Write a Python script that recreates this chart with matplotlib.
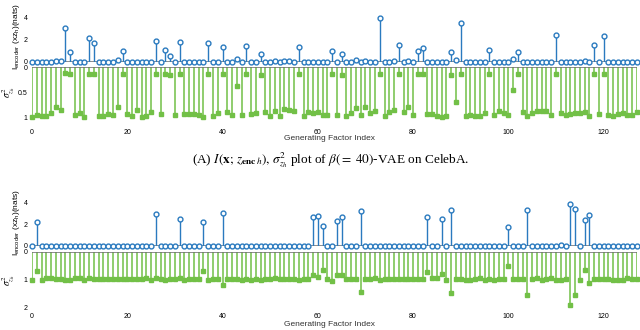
import numpy as np
import matplotlib
matplotlib.use("Agg")
import matplotlib.pyplot as plt

plt.rcParams['font.family'] = ['Liberation Sans', 'DejaVu Sans']
plt.rcParams['mathtext.fontset'] = 'stix'

factor_idx = np.arange(128)
x_ticks = [0, 20, 40, 60, 80, 100, 120]

# (A) beta(=40)-VAE on CelebA: mutual information per latent (nats)
enc_a = [0, 0, 0, 0, 0, 0.1, 0.1, 3.04, 0.85, 0, 0, 0, 2.15, 1.65, 0, 0,
         0, 0, 0.15, 1.0, 0, 0, 0, 0, 0, 0, 1.9, 0, 1.1, 0.55, 0, 1.75,
         0, 0, 0, 0, 0, 1.65, 0, 0, 1.3, 0, 0, 0.27, 0, 1.45, 0, 0,
         0.75, 0, 0, 0.1, 0, 0.1, 0.1, 0, 1.35, 0, 0, 0, 0, 0, 0, 0.95,
         0, 0.72, 0, 0, 0.15, 0, 0.1, 0, 0, 3.9, 0, 0, 0.1, 1.5, 0, 0.1,
         0, 0.95, 1.22, 0, 0, 0, 0, 0, 0.85, 0.15, 3.45, 0, 0, 0, 0, 0,
         1.1, 0, 0, 0, 0, 0.25, 0.92, 0, 0, 0, 0, 0, 0, 0, 2.4, 0,
         0, 0, 0, 0, 0.1, 0, 1.5, 0, 2.35, 0, 0, 0, 0, 0, 0, 0]

# (A) posterior variance per latent
var_a = [0.99, 0.95, 0.97, 0.97, 0.9, 0.79, 0.85, 0.12, 0.14, 0.95, 0.9, 0.98, 0.14, 0.14, 0.96, 0.97,
         0.93, 0.95, 0.78, 0.14, 0.92, 0.97, 0.85, 0.98, 0.96, 0.89, 0.13, 0.92, 0.13, 0.16, 0.95, 0.13,
         0.93, 0.93, 0.93, 0.95, 0.98, 0.13, 0.97, 0.91, 0.13, 0.88, 0.95, 0.37, 0.95, 0.13, 0.93, 0.9,
         0.15, 0.89, 0.97, 0.87, 0.96, 0.83, 0.85, 0.87, 0.14, 0.96, 0.88, 0.91, 0.88, 0.95, 0.94, 0.14,
         0.94, 0.15, 0.97, 0.91, 0.81, 0.95, 0.79, 0.91, 0.87, 0.13, 0.97, 0.89, 0.85, 0.13, 0.89, 0.79,
         0.95, 0.13, 0.13, 0.93, 0.93, 0.96, 0.99, 0.97, 0.16, 0.68, 0.13, 0.97, 0.94, 0.96, 0.97, 0.91,
         0.13, 0.95, 0.87, 0.9, 0.94, 0.45, 0.13, 0.88, 0.96, 0.91, 0.87, 0.86, 0.86, 0.94, 0.14, 0.91,
         0.95, 0.93, 0.9, 0.91, 0.89, 0.97, 0.13, 0.93, 0.13, 0.95, 0.96, 0.93, 0.91, 0.95, 0.95, 0.89]

# (B) second model
enc_b = [0, 2.17, 0, 0, 0, 0, 0, 0, 0, 0, 0, 0, 0, 0, 0, 0,
         0, 0, 0, 0, 0, 0, 0, 0, 0, 0, 2.93, 0, 0, 0, 0, 2.44,
         0, 0, 0, 0, 2.2, 0, 0, 0, 3.05, 0, 0, 0, 0, 0, 0, 0,
         0, 0, 0, 0, 0, 0, 0, 0, 0, 0, 0, 2.66, 2.78, 1.8, 0, 0,
         2.32, 2.69, 0, 0, 0, 3.24, 0, 0, 0, 0, 0, 0, 0, 0, 0, 0,
         0, 0, 0, 2.66, 0, 0, 2.5, 0, 3.27, 0, 0, 0, 0, 0, 0, 0,
         0, 0, 0, 0, 1.77, 0, 0, 0, 3.3, 0, 0, 0, 0, 0, 0, 0.05,
         0, 3.82, 3.39, 0, 2.35, 2.84, 0, 0, 0, 0, 0, 0, 0, 0, 0, 0]

var_b = [0.99, 0.69, 1.0, 0.95, 0.95, 0.96, 0.98, 0.99, 0.99, 0.95, 0.95, 0.99, 0.95, 0.96, 0.98, 0.98,
         0.96, 0.96, 0.96, 0.96, 0.98, 0.98, 0.98, 0.96, 0.94, 1.0, 0.92, 0.98, 0.99, 0.98, 0.98, 0.93,
         0.99, 0.96, 0.98, 0.96, 0.67, 0.99, 0.96, 0.98, 1.2, 0.98, 0.96, 0.96, 0.99, 0.98, 0.99, 0.96,
         0.99, 0.96, 0.96, 0.95, 0.98, 0.96, 0.98, 0.96, 0.99, 0.96, 0.96, 0.81, 0.89, 0.66, 0.96, 1.04,
         0.81, 0.81, 0.96, 0.96, 0.98, 1.45, 0.96, 0.96, 0.93, 0.99, 0.96, 0.97, 0.98, 0.96, 0.97, 0.98,
         0.96, 0.97, 0.98, 0.73, 0.95, 0.95, 0.8, 0.99, 1.46, 0.96, 0.96, 0.99, 0.99, 0.96, 0.95, 1.01,
         0.98, 0.99, 0.98, 0.98, 0.51, 0.98, 0.98, 0.98, 1.54, 0.98, 0.95, 0.99, 0.96, 0.95, 1.0, 1.01,
         0.96, 1.89, 1.53, 0.99, 0.66, 1.11, 0.98, 0.96, 0.96, 0.98, 0.99, 0.99, 0.99, 0.94, 0.96, 0.96]

BLUE = '#2a7abf'
GREEN = '#72c047'
BASE = '#6e6e6e'
W, H = 640, 330
TICK_FS = 5


def px_axes(fig, top, bottom):
    # axes placed by pixel rows (measured from the top of the image)
    ax = fig.add_axes([32 / W, 1 - bottom / H, 605 / W, (bottom - top) / H])
    ax.set_xlim(0, 127)
    for s in ax.spines.values():
        s.set_visible(False)
    ax.tick_params(length=0, labelsize=TICK_FS, pad=3)
    return ax


def draw_enc(ax, vals, ymax):
    ax.vlines(factor_idx, 0, vals, color=BLUE, lw=1.0, zorder=2)
    ax.plot(factor_idx, vals, 'o', ms=3.5, mfc='white', mec=BLUE, mew=1.0,
            clip_on=False, zorder=4)
    ax.axhline(0, color=BASE, lw=1.1, zorder=1)
    ax.set_ylim(0, ymax)
    ax.set_yticks([0, 2, 4])
    ax.set_xticks([])


def draw_var(ax, vals, ymax, ticks, labels):
    ax.vlines(factor_idx, 0, vals, color=GREEN, lw=1.1, zorder=2)
    ax.plot(factor_idx, vals, 's', ms=2.6, mfc=GREEN, mec=GREEN,
            clip_on=False, zorder=4)
    ax.axhline(0, color=BASE, lw=1.1, zorder=3)
    ax.set_ylim(ymax, 0)
    ax.set_yticks(ticks)
    ax.set_yticklabels(labels)
    ax.set_xticks(x_ticks)


fig = plt.figure(figsize=(6.4, 3.3), dpi=100)

# panel A
ax_a1 = px_axes(fig, 11.4, 62)
draw_enc(ax_a1, enc_a, 4.5)
ax_a2 = px_axes(fig, 67.3, 117.7)
draw_var(ax_a2, var_a, 1.0, [0, 0.5, 1], ['0', '0.5', '1'])
ax_a2.tick_params(axis='x', pad=8)

# panel B
ax_b1 = px_axes(fig, 197, 246)
draw_enc(ax_b1, enc_b, 4.5)
ax_b2 = px_axes(fig, 252, 307.7)
draw_var(ax_b2, var_b, 2.0, [0, 1, 2], ['0', '1', '2'])
ax_b2.tick_params(axis='x', pad=3.5)

ylab_top = r'I$_{\mathregular{encoder}}$ (xz$_{\mathregular{h}}$)(nats)'
ylab_bot = r'$\sigma^2_{z_h}$'
for y_top, y_bot in [(36, 92), (222, 280)]:
    fig.text(16 / W, 1 - y_top / H, ylab_top, rotation=90, fontsize=6,
             ha='center', va='center')
    fig.text(9 / W, 1 - y_bot / H, ylab_bot, rotation=90, fontsize=7,
             ha='center', va='center', family='DejaVu Sans')

for y in [139, 324]:
    fig.text(330 / W, 1 - y / H, 'Generating Factor Index', fontsize=6,
             ha='center', va='center', color='#333333')

fig.text(331 / W, 1 - 160 / H,
         r'(A) $I(\mathbf{x};\, z_{\mathbf{enc}\,h}),\, \sigma^2_{z_h}$ plot of $\beta(=\;40)$-VAE on CelebA.',
         fontsize=9.5, family='Liberation Serif', ha='center', va='center')

fig.savefig('out.png', dpi=100)
plt.close(fig)
